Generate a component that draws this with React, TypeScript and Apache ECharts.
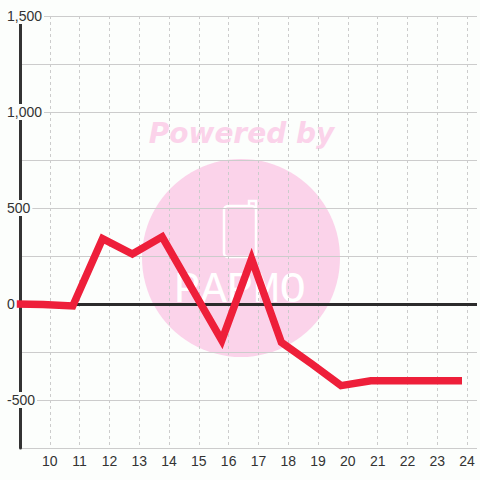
import React, { useEffect, useRef } from "react";
import * as echarts from "echarts";

const xValues = [8.77, 9.77, 10.77, 11.77, 12.77, 13.77, 14.77, 15.77, 16.77, 17.77, 18.77, 19.77, 20.77, 21.77, 22.77, 23.83];
const yValues = [0, -3, -10, 340, 260, 350, 80, -190, 235, -200, -310, -425, -400, -400, -400, -400];
const yTickLabels = [-500, 0, 500, 1000, 1500];
const xTickLabels = [10, 11, 12, 13, 14, 15, 16, 17, 18, 19, 20, 21, 22, 23, 24];

const BG = "#fcfefc";
const PINK = "#fbd3ea";

export default function App() {
  const ref = useRef<HTMLDivElement>(null);
  useEffect(() => {
    if (!ref.current) return;
    const chart = echarts.init(ref.current, undefined, { renderer: "svg" });
    const data = xValues.map((x, i) => [x, yValues[i]]);
    chart.setOption({
      animation: false,
      backgroundColor: BG,
      grid: { left: 20, right: 0, top: 16, bottom: 32 },
      graphic: [
        {
          type: "circle",
          z: -1,
          shape: { cx: 241, cy: 258, r: 99 },
          style: { fill: PINK },
        },
        {
          type: "text",
          z: -1,
          x: 241.5,
          y: 133,
          style: {
            text: "Powered by",
            fill: PINK,
            fontFamily: "DejaVu Sans",
            fontWeight: "bold",
            fontStyle: "italic",
            fontSize: 28,
            align: "center",
            verticalAlign: "middle",
          },
        },
        {
          type: "rect",
          z: -1,
          shape: { x: 224, y: 206, width: 32, height: 51, r: 4 },
          style: { fill: "none", stroke: "#ffffff", lineWidth: 2.5 },
        },
        {
          type: "polyline",
          z: -1,
          shape: { points: [[249, 206], [249, 201], [256, 201], [256, 208]] },
          style: { fill: "none", stroke: "#ffffff", lineWidth: 2.5 },
        },
        {
          type: "text",
          z: -1,
          x: 240,
          y: 290,
          style: {
            text: "PAPMO",
            fill: "#ffffff",
            fontFamily: "Liberation Mono",
            fontSize: 44,
            align: "center",
            verticalAlign: "middle",
          },
        },
      ],
      xAxis: {
        type: "value",
        min: 9,
        max: 24.333,
        interval: 1,
        axisLine: { show: false, onZero: false },
        axisTick: { show: false },
        splitLine: {
          show: true,
          showMinLine: false,
          showMaxLine: false,
          lineStyle: { color: "#cccccc", width: 1, type: [3, 3] },
        },
        axisLabel: {
          margin: 6,
          color: "#333333",
          fontFamily: "Liberation Sans",
          fontSize: 14,
          formatter: (v: number) => (xTickLabels.includes(v) ? String(v) : ""),
        },
      },
      yAxis: [
        {
          type: "value",
          min: -750,
          max: 1500,
          interval: 250,
          position: "left",
          z: 0,
          axisLine: { show: true, onZero: false, lineStyle: { color: "#333333", width: 3 } },
          axisTick: { show: false },
          axisLabel: { show: false },
          splitLine: { show: true, lineStyle: { color: "#cccccc", width: 1, type: "solid" } },
        },
        {
          type: "value",
          min: -750,
          max: 1500,
          interval: 250,
          position: "left",
          z: 10,
          axisLine: { show: false },
          axisTick: { show: false },
          splitLine: { show: false },
          axisLabel: {
            align: "left",
            margin: 15,
            color: "#333333",
            fontFamily: "Liberation Sans",
            fontSize: 14,
            formatter: (v: number) =>
              yTickLabels.includes(v) ? "{b|" + v.toLocaleString("en-US") + "}" : "",
            rich: {
              b: {
                color: "#333333",
                fontFamily: "Liberation Sans",
                fontSize: 14,
                backgroundColor: BG,
                padding: [1, 2],
              },
            },
          },
        },
      ],
      series: [
        {
          type: "line",
          data,
          yAxisIndex: 0,
          symbol: "none",
          z: 2,
          lineStyle: { color: "#ee1f3a", width: 7.5, join: "miter" },
          markLine: {
            z: 1,
            silent: true,
            symbol: ["none", "none"],
            label: { show: false },
            lineStyle: { color: "#2b2b2b", width: 3, type: "solid" },
            data: [{ yAxis: 0 }],
          },
        },
      ],
    });
    return () => chart.dispose();
  }, []);
  return (
    <div
      ref={ref}
      style={{ width: 480, height: 480, position: "fixed", left: 0, top: 0 }}
    />
  );
}
